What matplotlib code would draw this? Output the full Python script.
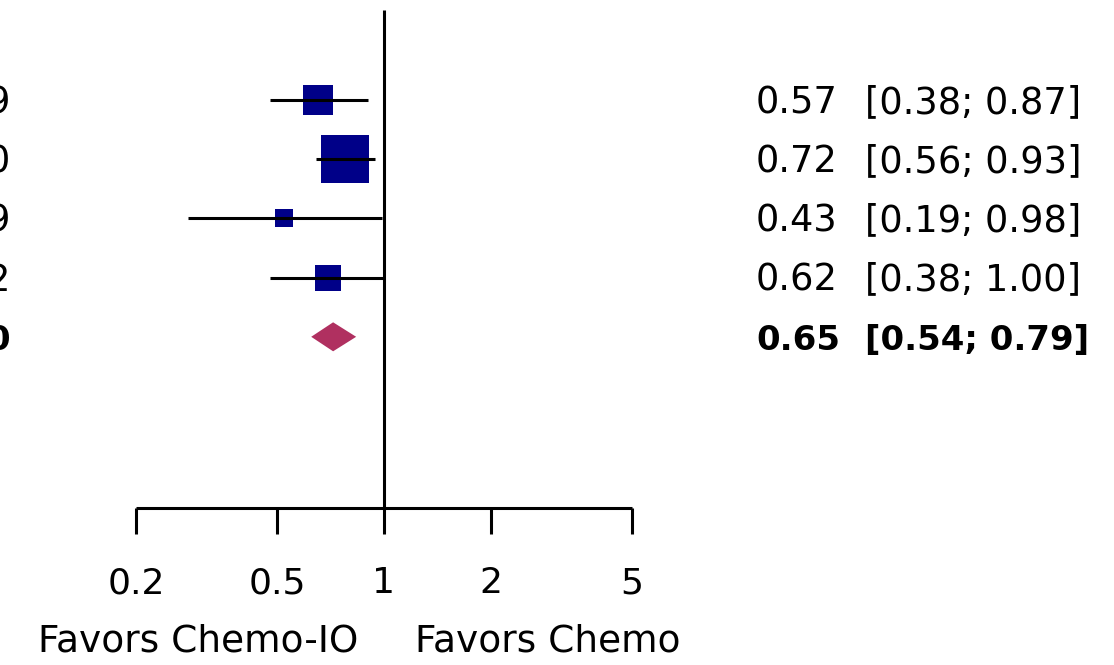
import numpy as np
import matplotlib
matplotlib.use("Agg")
import matplotlib.pyplot as plt

# ---------------- data ----------------
hr = [0.57, 0.72, 0.43, 0.62]
ci_lower = [0.38, 0.56, 0.19, 0.38]
ci_upper = [0.87, 0.93, 0.98, 1.00]
weights = [21.6, 53.1, 7.8, 17.5]          # estimated from square areas
left_digits = ["9", "0", "9", "2"]          # partly cut-off column at the left edge
pooled_hr, pooled_lower, pooled_upper = 0.65, 0.54, 0.79
pooled_digit = "0"
axis_ticks = [0.2, 0.5, 1, 2, 5]
axis_ticklabels = ["0.2", "0.5", "1", "2", "5"]
label_left = "Favors Chemo-IO"
label_right = "Favors Chemo"

# ---------------- layout (pixels) ----------------
W, H, DPI = 1114, 665, 100
X_ONE = 384          # pixel of HR = 1
PX_DECADE = 272      # data scale (pixels per decade)
ROW0, ROW_STEP = 100, 59.2
FS = 26.5
FS_BOLD = 24.5
FS_TICK = 26
FS_LAB = 27
LW = 2.2
SQ_COLOR = "#000088"
DIA_COLOR = "#B03060"

fig = plt.figure(figsize=(W / DPI, H / DPI), dpi=DPI)
fig.patch.set_facecolor("white")

ax = fig.add_axes([0, 0, 1, 1])
ax.set_xscale("log")
ax.set_xlim(10 ** (-X_ONE / PX_DECADE), 10 ** ((W - X_ONE) / PX_DECADE))
ax.set_ylim((H - ROW0) / ROW_STEP, -ROW0 / ROW_STEP)
ax.axis("off")

rows = np.arange(len(hr))
pooled_row = len(hr)

# squares (weights -> area)
for r, h, w in zip(rows, hr, weights):
    side_px = 6.45 * np.sqrt(w)
    ax.plot([h], [r], marker="s", ms=side_px * 72 / DPI, color=SQ_COLOR,
            mew=0, ls="none", zorder=2)
# confidence intervals
for r, lo, hi in zip(rows, ci_lower, ci_upper):
    ax.plot([lo, hi], [r, r], color="black", lw=LW, solid_capstyle="butt", zorder=3)

# pooled diamond
dh = 14.5 / ROW_STEP
ax.fill([pooled_lower, pooled_hr, pooled_upper, pooled_hr],
        [pooled_row, pooled_row - dh, pooled_row, pooled_row + dh],
        color=DIA_COLOR, lw=0, zorder=2)

# line of no effect
y_top = (10 - ROW0) / ROW_STEP
y_bot = (508 - ROW0) / ROW_STEP
ax.plot([1, 1], [y_top, y_bot], color="black", lw=LW, solid_capstyle="butt", zorder=3)

# ---------------- texts ----------------
def px2fig(x, y):
    return x / W, 1 - y / H

for i, (h, lo, hi, d) in enumerate(zip(hr, ci_lower, ci_upper, left_digits)):
    yb = ROW0 + ROW_STEP * i + 13
    fig.text(*px2fig(756, yb), f"{h:.2f}", fontsize=FS, ha="left", va="baseline")
    fig.text(*px2fig(865, yb), f"[{lo:.2f}; {hi:.2f}]", fontsize=FS, ha="left", va="baseline")
    fig.text(*px2fig(10, yb), d, fontsize=FS, ha="right", va="baseline")

yb = ROW0 + ROW_STEP * pooled_row + 13
fig.text(*px2fig(756, yb), f"{pooled_hr:.2f}", fontsize=FS_BOLD, ha="left", va="baseline",
         fontweight="bold")
fig.text(*px2fig(865, yb), f"[{pooled_lower:.2f}; {pooled_upper:.2f}]", fontsize=FS_BOLD,
         ha="left", va="baseline", fontweight="bold")
fig.text(*px2fig(10, yb), pooled_digit, fontsize=FS_BOLD, ha="right", va="baseline",
         fontweight="bold")

# ---------------- scale axis ----------------
x0, x1, y_axis = 136, 632, 508
ax2 = fig.add_axes([x0 / W, (H - y_axis) / H, (x1 - x0) / W, 0.0001])
ax2.set_xscale("log")
ax2.set_xlim(axis_ticks[0], axis_ticks[-1])
ax2.set_xticks(axis_ticks)
ax2.set_xticklabels(axis_ticklabels)
ax2.minorticks_off()
ax2.set_yticks([])
for s in ["top", "left", "right"]:
    ax2.spines[s].set_visible(False)
ax2.spines["bottom"].set_linewidth(LW)
ax2.spines["bottom"].set_capstyle("butt")
ax2.tick_params(axis="x", direction="out", length=19, width=LW, labelsize=FS_TICK, pad=23)
ax2.patch.set_visible(False)

# favours labels
fig.text(*px2fig(X_ONE - 26, 652), label_left, fontsize=FS_LAB, ha="right", va="baseline")
fig.text(*px2fig(X_ONE + 31, 652), label_right, fontsize=FS_LAB, ha="left", va="baseline")

fig.savefig("out.png", dpi=DPI, facecolor="white")
